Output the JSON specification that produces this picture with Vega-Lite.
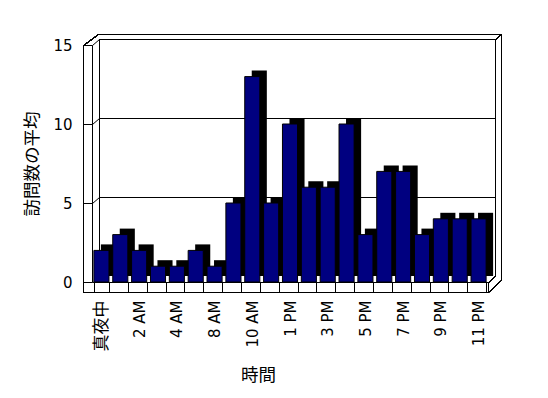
{
  "$schema": "https://vega.github.io/schema/vega-lite/v6.json",
  "width": 396,
  "height": 237,
  "autosize": {"type": "none"},
  "padding": {"left": 92, "top": 45, "right": 60, "bottom": 116},
  "background": "white",
  "config": {
    "view": {"stroke": null},
    "axis": {"labelColor": "black", "titleColor": "black", "domainColor": "black", "tickColor": "black", "grid": false, "domainWidth": 1, "tickWidth": 1},
    "rule": {"stroke": "black", "strokeWidth": 1}
  },
  "data": {
    "values": [
      {"hour": "真夜中", "visits": 2},
      {"hour": "1 AM", "visits": 3},
      {"hour": "2 AM", "visits": 2},
      {"hour": "3 AM", "visits": 1},
      {"hour": "4 AM", "visits": 1},
      {"hour": "6 AM", "visits": 2},
      {"hour": "8 AM", "visits": 1},
      {"hour": "9 AM", "visits": 5},
      {"hour": "10 AM", "visits": 13},
      {"hour": "11 AM", "visits": 5},
      {"hour": "1 PM", "visits": 10},
      {"hour": "2 PM", "visits": 6},
      {"hour": "3 PM", "visits": 6},
      {"hour": "4 PM", "visits": 10},
      {"hour": "5 PM", "visits": 3},
      {"hour": "6 PM", "visits": 7},
      {"hour": "7 PM", "visits": 7},
      {"hour": "8 PM", "visits": 3},
      {"hour": "9 PM", "visits": 4},
      {"hour": "10 PM", "visits": 4},
      {"hour": "11 PM", "visits": 4}
    ]
  },
  "layer": [
    {
      "layer": [
        {
          "mark": {"type": "rule", "xOffset": -8.5, "yOffset": 10},
          "encoding": {
            "x": {"datum": 0, "type": "quantitative", "scale": {"domain": [0, 1], "nice": false}, "axis": null},
            "y": {"datum": 0, "type": "quantitative", "scale": {"domain": [0, 15], "nice": false}, "axis": null},
            "y2": {"datum": 15}
          }
        },
        {
          "mark": {"type": "rule", "xOffset": -8.5, "yOffset": 0.5},
          "encoding": {
            "x": {"datum": 0, "type": "quantitative", "axis": null},
            "x2": {"datum": 0},
            "y": {"datum": 15, "type": "quantitative", "axis": null}
          }
        },
        {
          "mark": {"type": "rule", "xOffset": -8.5, "yOffset": 10.5},
          "encoding": {
            "x": {"datum": 0, "type": "quantitative", "axis": null},
            "x2": {"datum": 1},
            "y": {"datum": 0, "type": "quantitative", "axis": null}
          }
        },
        {
          "mark": {"type": "rule", "xOffset": 0.5, "y2Offset": 10},
          "encoding": {
            "x": {"datum": 1, "type": "quantitative", "axis": null},
            "y": {"datum": 0, "type": "quantitative", "axis": null},
            "y2": {"datum": 0}
          }
        },
        {
          "mark": {"type": "rule", "xOffset": 7.5, "x2Offset": 7.5, "yOffset": -5.5},
          "encoding": {
            "x": {"datum": 0, "type": "quantitative", "axis": null},
            "x2": {"datum": 1},
            "y": {"datum": 15, "type": "quantitative", "axis": null}
          }
        },
        {
          "mark": {"type": "rule", "xOffset": 7.5, "yOffset": -6, "y2Offset": -6},
          "encoding": {
            "x": {"datum": 0, "type": "quantitative", "axis": null},
            "y": {"datum": 0, "type": "quantitative", "axis": null},
            "y2": {"datum": 15}
          }
        },
        {
          "mark": {"type": "rule", "xOffset": 7.5, "yOffset": -6, "y2Offset": -6},
          "encoding": {
            "x": {"datum": 1, "type": "quantitative", "axis": null},
            "y": {"datum": 0, "type": "quantitative", "axis": null},
            "y2": {"datum": 15}
          }
        },
        {
          "data": {"values": [{"v": 5}, {"v": 10}]},
          "mark": {"type": "rule", "xOffset": 7.5, "x2Offset": 7.5, "yOffset": -5.5},
          "encoding": {
            "x": {"datum": 0, "type": "quantitative", "axis": null},
            "x2": {"datum": 1},
            "y": {"field": "v", "type": "quantitative", "axis": null}
          }
        },
        {
          "data": {"values": [{"v": 5}, {"v": 10}, {"v": 15}]},
          "mark": {"type": "rule", "xOffset": 0.5, "yOffset": 0.5, "x2Offset": 7.5, "y2Offset": -5.5},
          "encoding": {
            "x": {"datum": 0, "type": "quantitative", "axis": null},
            "x2": {"datum": 0},
            "y": {"field": "v", "type": "quantitative", "axis": null},
            "y2": {"field": "v"}
          }
        },
        {
          "mark": {"type": "rule", "xOffset": 6.5, "x2Offset": 13.5, "yOffset": -10.5},
          "encoding": {
            "x": {"datum": 0, "type": "quantitative", "axis": null},
            "x2": {"datum": 1},
            "y": {"datum": 15, "type": "quantitative", "axis": null}
          }
        },
        {
          "mark": {"type": "rule", "xOffset": 13.5, "yOffset": -2, "y2Offset": -11},
          "encoding": {
            "x": {"datum": 1, "type": "quantitative", "axis": null},
            "y": {"datum": 0, "type": "quantitative", "axis": null},
            "y2": {"datum": 15}
          }
        },
        {
          "mark": {"type": "rule", "xOffset": 7.5, "x2Offset": 13.5, "yOffset": -5.5, "y2Offset": -10.5},
          "encoding": {
            "x": {"datum": 1, "type": "quantitative", "axis": null},
            "x2": {"datum": 1},
            "y": {"datum": 15, "type": "quantitative", "axis": null},
            "y2": {"datum": 15}
          }
        },
        {
          "mark": {"type": "rule", "xOffset": -8.5, "yOffset": 0.5, "x2Offset": 6.5, "y2Offset": -10.5},
          "encoding": {
            "x": {"datum": 0, "type": "quantitative", "axis": null},
            "x2": {"datum": 0},
            "y": {"datum": 15, "type": "quantitative", "axis": null},
            "y2": {"datum": 15}
          }
        },
        {
          "mark": {"type": "rule", "xOffset": 0.5, "x2Offset": 13.5, "yOffset": 10.5, "y2Offset": -1.5},
          "encoding": {
            "x": {"datum": 1, "type": "quantitative", "axis": null},
            "x2": {"datum": 1},
            "y": {"datum": 0, "type": "quantitative", "axis": null},
            "y2": {"datum": 0}
          }
        },
        {
          "mark": {"type": "rule", "xOffset": 0.5, "yOffset": 0.5, "x2Offset": 7.5, "y2Offset": -5.5},
          "encoding": {
            "x": {"datum": 1, "type": "quantitative", "axis": null},
            "x2": {"datum": 1},
            "y": {"datum": 0, "type": "quantitative", "axis": null},
            "y2": {"datum": 0}
          }
        }
      ]
    },
    {
      "encoding": {
        "x": {
          "field": "hour", "type": "nominal", "sort": null,
          "scale": {"paddingInner": 0.2, "paddingOuter": 0.1},
          "axis": {
            "orient": "bottom",
            "tickBand": "extent",
            "tickSize": 10,
            "labelAngle": -90,
            "labelAlign": "right",
            "labelBaseline": "middle",
            "labelPadding": 8,
            "labelFont": "'DejaVu Sans', 'Noto Sans CJK JP'",
            "labelFontSize": {"condition": {"test": "datum.value === '真夜中'", "value": 17}, "value": 15},
            "labelExpr": "indexof(['真夜中','2 AM','4 AM','8 AM','10 AM','1 PM','3 PM','5 PM','7 PM','9 PM','11 PM'], datum.value) >= 0 ? datum.label : ''",
            "title": "時間",
            "titleFont": "Noto Sans CJK JP",
            "titleFontSize": 17.5,
            "titleFontWeight": "normal",
            "titleX": 166,
            "titleY": 93,
            "titleAlign": "center",
            "titleBaseline": "middle"
          }
        },
        "y": {
          "field": "visits", "type": "quantitative",
          "scale": {"domain": [0, 15], "nice": false},
          "axis": {
            "orient": "left",
            "values": [0, 5, 10, 15],
            "tickSize": 9,
            "labelPadding": 11,
            "labelFont": "'DejaVu Sans'",
            "labelFontSize": 15,
            "title": "訪問数の平均",
            "titleFont": "Noto Sans CJK JP",
            "titleFontSize": 17.5,
            "titleFontWeight": "normal",
            "titlePadding": 11
          }
        }
      },
      "layer": [
        {"mark": {"type": "bar", "color": "black", "xOffset": 7, "yOffset": -6}},
        {"mark": {"type": "bar", "fill": "#000080", "stroke": "black", "strokeWidth": 1}}
      ]
    }
  ],
  "resolve": {"scale": {"x": "independent", "y": "independent"}, "axis": {"x": "independent", "y": "independent"}}
}
